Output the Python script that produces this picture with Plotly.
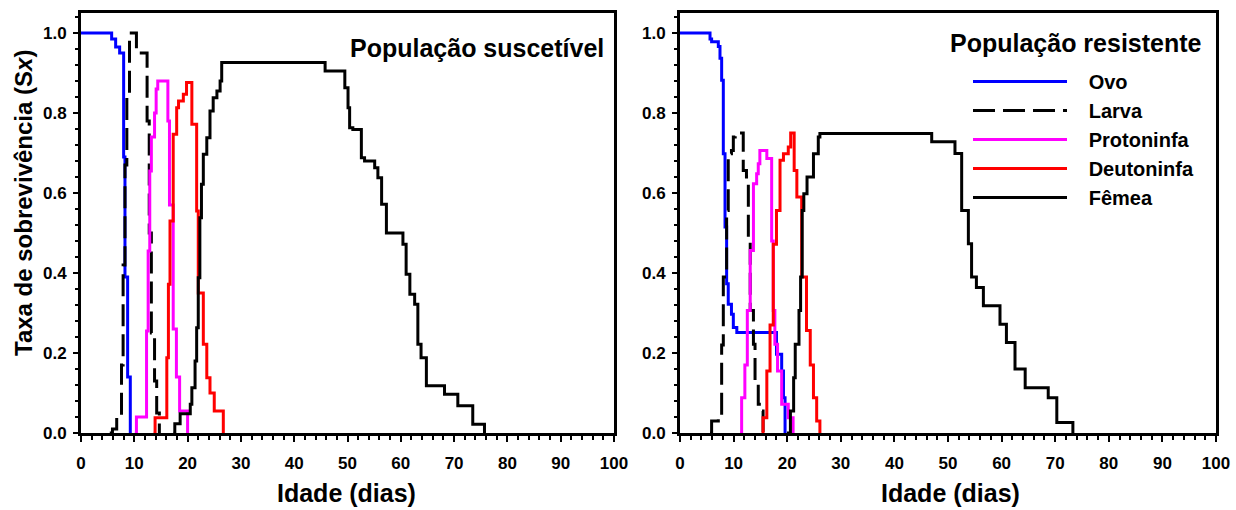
import plotly.graph_objects as go

# ---------------- Data: População suscetível ----------------
ovo_s_x = [0, 5.75, 6.5, 7.25, 8.0, 8.25, 8.75, 9.25]
ovo_s_y = [1.0, 0.985, 0.965, 0.95, 0.69, 0.39, 0.14, 0.0]

larva_s_x = [5.4, 5.9, 6.7, 7.6, 7.9, 8.25, 8.6, 9.1, 10.4, 12.4, 12.8, 13.2, 13.8, 14.2, 14.7]
larva_s_y = [0.0, 0.01, 0.04, 0.17, 0.42, 0.67, 0.84, 1.0, 0.95, 0.78, 0.5, 0.25, 0.13, 0.05, 0.0]

proto_s_x = [10.1, 10.4, 12.3, 12.6, 12.9, 13.2, 13.8, 14.1, 14.4, 16.3, 16.6, 17.3, 17.9, 18.5, 20.0]
proto_s_y = [0.0, 0.04, 0.255, 0.455, 0.655, 0.74, 0.8, 0.86, 0.88, 0.78, 0.57, 0.26, 0.14, 0.055, 0.0]

deuto_s_x = [13.6, 13.9, 16.1, 16.4, 16.7, 17.3, 17.95, 18.3, 19.2, 19.8, 20.8, 21.7, 22.0, 22.95, 23.6, 24.2, 25.0, 26.7]
deuto_s_y = [0.0, 0.038, 0.188, 0.372, 0.53, 0.747, 0.813, 0.83, 0.847, 0.876, 0.772, 0.555, 0.35, 0.222, 0.138, 0.1, 0.055, 0.0]

femea_s_x = [17.3, 17.6, 18.6, 20.5, 20.8, 21.4, 21.7, 22.0, 22.3, 22.6, 22.95, 23.6, 24.2, 24.8, 25.5, 26.1, 26.4,
             45.8, 49.5, 50.1, 50.4, 51.0, 52.6, 53.2, 55.1, 55.7, 56.4, 57.3,
             60.4, 61.0, 61.7, 62.6, 63.2, 63.8, 64.8, 68.2, 70.7, 73.5, 75.7]
femea_s_y = [0.0, 0.023, 0.048, 0.072, 0.113, 0.18, 0.263, 0.388, 0.538, 0.622, 0.697, 0.738, 0.805, 0.838, 0.855, 0.88, 0.926,
             0.905, 0.863, 0.813, 0.763, 0.759, 0.688, 0.68, 0.663, 0.638, 0.572, 0.5,
             0.472, 0.397, 0.347, 0.322, 0.222, 0.188, 0.118, 0.097, 0.068, 0.022, 0.0]

# ---------------- Data: População resistente ----------------
ovo_r_x = [0, 5.6, 5.9, 7.15, 7.46, 7.77, 8.08, 8.4, 8.7, 9.0, 9.6, 9.95, 10.6, 18.0, 18.97, 19.3, 19.6]
ovo_r_y = [1.0, 0.985, 0.978, 0.966, 0.937, 0.882, 0.698, 0.515, 0.373, 0.322, 0.297, 0.264, 0.251, 0.197, 0.155, 0.088, 0.0]

larva_r_x = [5.6, 5.9, 7.15, 7.77, 8.08, 8.7, 9.0, 9.6, 9.95, 10.3, 11.8, 12.4, 12.75, 13.1, 13.7, 14.0, 14.6, 15.2, 15.5]
larva_r_y = [0.0, 0.03, 0.04, 0.22, 0.39, 0.556, 0.698, 0.706, 0.74, 0.75, 0.656, 0.64, 0.48, 0.306, 0.222, 0.122, 0.072, 0.055, 0.0]

proto_r_x = [11.2, 11.5, 12.1, 12.56, 13.1, 13.7, 14.3, 14.6, 14.9, 16.2, 17.1, 17.4, 17.7, 18.2, 18.97, 20.2, 21.1]
proto_r_y = [0.0, 0.088, 0.17, 0.306, 0.456, 0.623, 0.648, 0.673, 0.706, 0.686, 0.48, 0.306, 0.222, 0.155, 0.072, 0.038, 0.0]

deuto_r_x = [15.2, 15.5, 16.2, 16.8, 17.4, 18.0, 18.66, 19.3, 20.2, 20.65, 21.3, 21.8, 22.7, 23.6, 24.3, 24.9, 25.5, 26.1]
deuto_r_y = [0.0, 0.038, 0.155, 0.27, 0.472, 0.556, 0.682, 0.698, 0.715, 0.75, 0.656, 0.59, 0.39, 0.256, 0.17, 0.088, 0.03, 0.0]

femea_r_x = [19.95, 20.6, 21.2, 21.5, 22.2, 22.5, 22.8, 23.1, 23.7, 24.9, 25.8, 26.1, 46.96, 51.3, 52.55, 53.8, 54.4,
             55.3, 56.6, 59.7, 60.9, 62.5, 64.4, 68.7, 70.3, 73.3]
femea_r_y = [0.0, 0.055, 0.138, 0.222, 0.306, 0.39, 0.556, 0.598, 0.64, 0.698, 0.74, 0.749, 0.728, 0.699, 0.556, 0.473, 0.39,
             0.364, 0.318, 0.272, 0.226, 0.16, 0.113, 0.088, 0.026, 0.0]

series_names = ["Ovo", "Larva", "Protoninfa", "Deutoninfa", "Fêmea"]
colors = ["#0000ff", "#000000", "#ff00ff", "#ff0000", "#000000"]
dashes = ["solid", "22px,8px", "solid", "solid", "solid"]

x_ticks = [0, 10, 20, 30, 40, 50, 60, 70, 80, 90, 100]
y_ticks = [0.0, 0.2, 0.4, 0.6, 0.8, 1.0]

sus = [(ovo_s_x, ovo_s_y), (larva_s_x, larva_s_y), (proto_s_x, proto_s_y), (deuto_s_x, deuto_s_y), (femea_s_x, femea_s_y)]
res = [(ovo_r_x, ovo_r_y), (larva_r_x, larva_r_y), (proto_r_x, proto_r_y), (deuto_r_x, deuto_r_y), (femea_r_x, femea_r_y)]

FONT = "Arial, Liberation Sans, sans-serif"
W, H = 1236, 510
NB = "\u00a0" * 3


def px(p):
    """page x pixel -> paper fraction"""
    return p / W


def py(p):
    """page y pixel -> paper fraction (from bottom)"""
    return (H - p) / H


fig = go.Figure()
for i, (xs, ys) in enumerate(sus):
    fig.add_trace(go.Scatter(x=xs, y=ys, mode="lines", line_shape="hv", name=series_names[i],
                             line=dict(color=colors[i], width=3, dash=dashes[i]),
                             showlegend=False, xaxis="x", yaxis="y"))
for i, (xs, ys) in enumerate(res):
    fig.add_trace(go.Scatter(x=xs, y=ys, mode="lines", line_shape="hv", name=NB + series_names[i],
                             legendgroup=series_names[i],
                             line=dict(color=colors[i], width=3, dash=dashes[i]),
                             showlegend=True, xaxis="x2", yaxis="y2"))

ydom = [py(433), py(13)]


def xaxis_cfg(dom, anchor):
    return dict(domain=dom, range=[0, 100], tickvals=x_ticks, ticktext=[str(v) for v in x_ticks],
                anchor=anchor, automargin=False, ticklabeloverflow="allow",
                showline=True, linecolor="black", linewidth=3, mirror=True,
                ticks="outside", ticklen=6, tickwidth=2, tickcolor="black",
                minor=dict(dtick=2, ticks="outside", ticklen=4, tickwidth=1.5, tickcolor="black"),
                showgrid=False, zeroline=False, ticklabelstandoff=7,
                tickfont=dict(family=FONT, size=17, color="black", weight="bold"))


def yaxis_cfg(anchor):
    return dict(domain=ydom, range=[0, 1.05], tickvals=y_ticks, ticktext=[f"{v:.1f}" for v in y_ticks],
                anchor=anchor, automargin=False,
                showline=True, linecolor="black", linewidth=3, mirror=True,
                ticks="outside", ticklen=5, tickwidth=2, tickcolor="black",
                minor=dict(dtick=0.04, tick0=0, ticks="outside", ticklen=3, tickwidth=1.5, tickcolor="black"),
                showgrid=False, zeroline=False, ticklabelstandoff=3,
                tickfont=dict(family=FONT, size=17, color="black", weight="bold"))


fig.update_layout(
    width=W, height=H,
    margin=dict(l=0, r=0, t=0, b=0, autoexpand=False),
    paper_bgcolor="white", plot_bgcolor="white",
    hovermode=False,
    xaxis=xaxis_cfg([px(81), px(614)], "y"),
    yaxis=yaxis_cfg("x"),
    xaxis2=xaxis_cfg([px(680), px(1216)], "y2"),
    yaxis2=yaxis_cfg("x2"),
    legend=dict(x=px(968), y=py(62), xanchor="left", yanchor="top",
                bgcolor="rgba(0,0,0,0)", itemwidth=94, tracegroupgap=0,
                font=dict(family=FONT, size=20, color="black", weight="bold")),
    annotations=[
        dict(text="População suscetível", xref="paper", yref="paper", x=px(606), y=py(48),
             xanchor="right", yanchor="middle", showarrow=False,
             font=dict(family=FONT, size=25, color="black", weight="bold")),
        dict(text="População resistente", xref="paper", yref="paper", x=px(1204), y=py(43),
             xanchor="right", yanchor="middle", showarrow=False,
             font=dict(family=FONT, size=25, color="black", weight="bold")),
        dict(text="Taxa de sobrevivência (S<i>x</i>)", xref="paper", yref="paper", x=px(23), y=py(203),
             xanchor="center", yanchor="middle", showarrow=False, textangle=-90,
             font=dict(family=FONT, size=24, color="black", weight="bold")),
        dict(text="Idade (dias)", xref="paper", yref="paper", x=px(346), y=py(493),
             xanchor="center", yanchor="middle", showarrow=False,
             font=dict(family=FONT, size=25, color="black", weight="bold")),
        dict(text="Idade (dias)", xref="paper", yref="paper", x=px(950), y=py(493),
             xanchor="center", yanchor="middle", showarrow=False,
             font=dict(family=FONT, size=25, color="black", weight="bold")),
    ],
)

fig.write_html("out.html", config={"displayModeBar": False},
               post_script="document.body.style.margin='0';document.body.style.overflow='hidden';")
